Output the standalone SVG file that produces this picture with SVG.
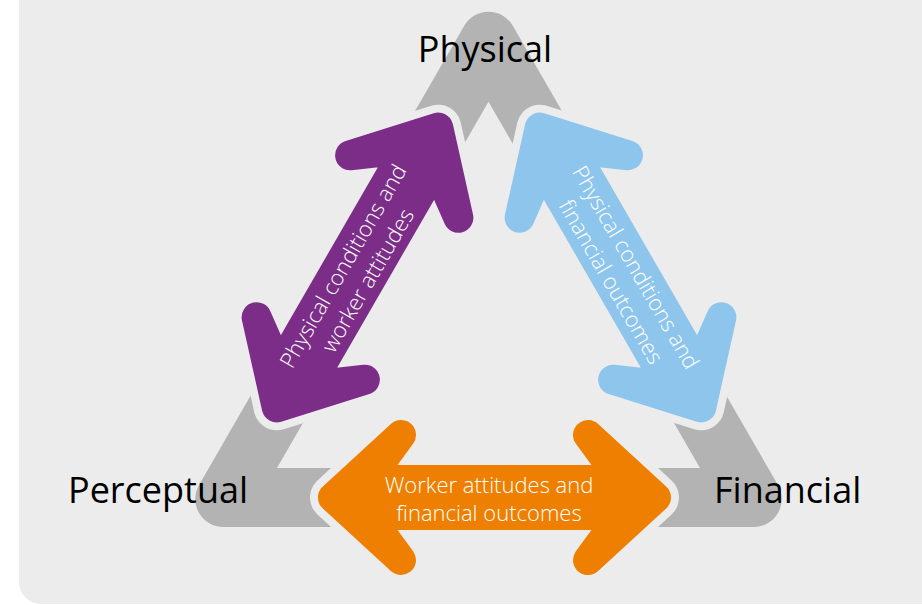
<svg xmlns="http://www.w3.org/2000/svg" width="922" height="605" viewBox="0 0 922 605">
  <style>
    .label { font-family: "Open Sans", "Liberation Sans", sans-serif; font-size: 36px; fill: #000000; }
    .atext { font-family: "Open Sans", "Liberation Sans", sans-serif; font-size: 22px; font-weight: 300; fill: #ffffff; text-anchor: middle; }
    .halo { fill: #ececec; stroke: #ececec; stroke-width: 46; stroke-linejoin: round; }
    .purple { fill: #7b2d87; stroke: #7b2d87; stroke-width: 30; stroke-linejoin: round; }
    .blue { fill: #8ec5ec; stroke: #8ec5ec; stroke-width: 30; stroke-linejoin: round; }
    .orange { fill: #ee7f00; stroke: #ee7f00; stroke-width: 30; stroke-linejoin: round; }
  </style>
  <defs>
    <polygon id="dbl" points="161.5,0 93.5,62.5 126.5,17.5 -126.5,17.5 -93.5,62.5 -161.5,0 -93.5,-62.5 -126.5,-17.5 126.5,-17.5 93.5,-62.5"/>
  </defs>
  <rect x="0" y="0" width="922" height="605" fill="#ffffff"/>
  <rect id="panel" x="19" y="-40" width="960" height="644" rx="22" fill="#ececec"/>
  <path id="cycle" fill="#b3b3b3" fill-rule="evenodd" d="M464.25,25.7 A28,28 0 0 1 512.75,25.7 L777.95,485 A28,28 0 0 1 753.7,527 L223.3,527 A28,28 0 0 1 199.05,485 Z M488.5,101.7 L700,468 L277,468 Z"/>
  <g id="connectors">
    <use href="#dbl" class="halo" transform="translate(357.5,267.5) rotate(-60)"/>
    <use href="#dbl" class="halo" transform="translate(620.5,267.5) rotate(60)"/>
    <use href="#dbl" class="halo" transform="translate(494.5,497.5)"/>
    <g id="arrow-physical-perceptual" transform="translate(357.5,267.5) rotate(-60)">
      <use href="#dbl" class="purple"/>
      <text class="atext" x="-6" y="-5.5">Physical conditions and</text>
      <text class="atext" x="-6" y="23">worker attitudes</text>
    </g>
    <g id="arrow-physical-financial" transform="translate(620.5,267.5) rotate(60)">
      <use href="#dbl" class="blue"/>
      <text class="atext" x="7.5" y="-5.5">Physical conditions and</text>
      <text class="atext" x="7.5" y="23">financial outcomes</text>
    </g>
    <g id="arrow-perceptual-financial" transform="translate(494.5,497.5)">
      <use href="#dbl" class="orange"/>
      <text class="atext" x="-5.5" y="-5">Worker attitudes and</text>
      <text class="atext" x="-5.5" y="23">financial outcomes</text>
    </g>
  </g>
  <g id="node-physical">
    <text class="label" x="485" y="62" text-anchor="middle">Physical</text>
  </g>
  <g id="node-perceptual">
    <text class="label" x="68" y="503">Perceptual</text>
  </g>
  <g id="node-financial">
    <text class="label" x="714" y="503">Financial</text>
  </g>
</svg>
